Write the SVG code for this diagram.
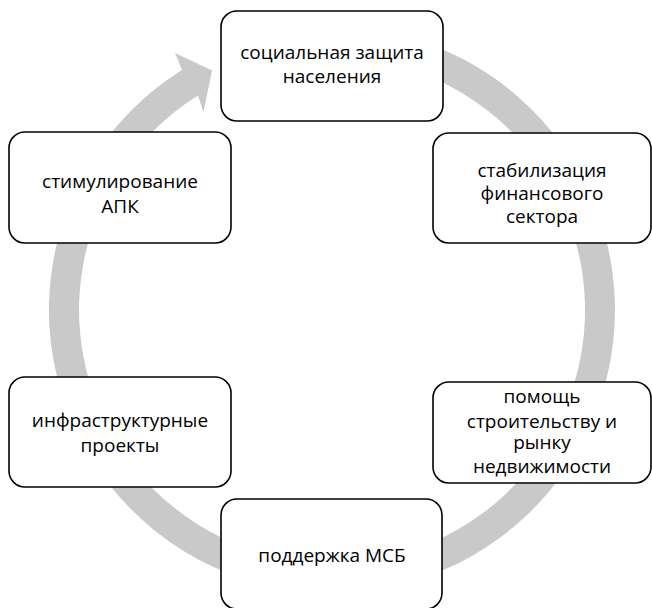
<svg xmlns="http://www.w3.org/2000/svg" width="652" height="608" viewBox="0 0 652 608">
<style>
.box{fill:#ffffff;stroke:#000000;stroke-width:1.6}
.t{font-family:"Open Sans","Noto Sans","DejaVu Sans",sans-serif;font-size:19px;fill:#000000;text-anchor:middle}
.ring{fill:#c9c9c9;stroke:none}
</style>
<rect width="652" height="608" fill="#ffffff"/>
<g id="connectors">
<path class="ring" d="M 332 27 A 283 283 0 1 1 182 70 L 175 53 L 212 70.4 L 203.5 112 L 197.9 95.5 A 253 253 0 1 0 332 57 Z"/>
</g>
<g id="node-social">
<rect class="box" x="221" y="11" width="222" height="110" rx="16"/>
<text class="t" x="332" y="59">социальная защита</text>
<text class="t" x="332" y="83">населения</text>
</g>
<g id="node-finance">
<rect class="box" x="433" y="133" width="218" height="110" rx="16"/>
<text class="t" x="542" y="177">стабилизация</text>
<text class="t" x="542" y="200">финансового</text>
<text class="t" x="542" y="223">сектора</text>
</g>
<g id="node-construction">
<rect class="box" x="433" y="382" width="218" height="101" rx="16"/>
<text class="t" x="542" y="403">помощь</text>
<text class="t" x="542" y="428">строительству и</text>
<text class="t" x="542" y="449">рынку</text>
<text class="t" x="542" y="473">недвижимости</text>
</g>
<g id="node-msb">
<rect class="box" x="221" y="499" width="221" height="110" rx="16"/>
<text class="t" x="332" y="562">поддержка МСБ</text>
</g>
<g id="node-infra">
<rect class="box" x="9" y="377" width="222" height="110" rx="16"/>
<text class="t" x="120" y="427">инфраструктурные</text>
<text class="t" x="120" y="452">проекты</text>
</g>
<g id="node-apk">
<rect class="box" x="9" y="132" width="222" height="111" rx="16"/>
<text class="t" x="120" y="188">стимулирование</text>
<text class="t" x="120" y="213">АПК</text>
</g>
</svg>
